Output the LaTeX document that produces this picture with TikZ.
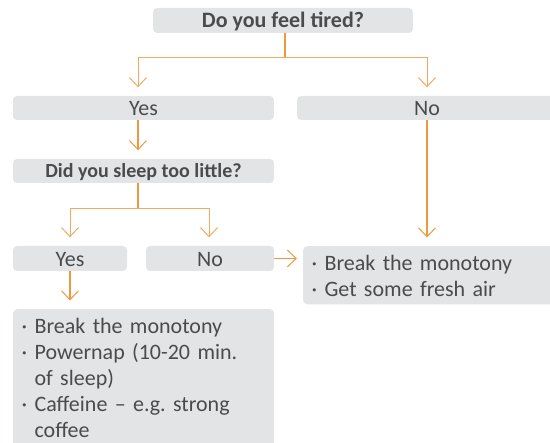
\documentclass[tikz,border=0pt]{standalone}
\usepackage{fontspec}
\setmainfont{Carlito}[WordSpace=0.8,BoldFeatures={WordSpace=1.0}]
\usetikzlibrary{arrows.meta,calc}
\definecolor{boxgray}{HTML}{E3E4E6}
\definecolor{txt}{HTML}{4A4B4D}
\definecolor{org}{HTML}{EE9840}
\definecolor{orgl}{HTML}{F2A95F}
\frenchspacing
\begin{document}
\begin{tikzpicture}[x=1pt,y=-1pt,
  box/.style={fill=boxgray, rounded corners=4pt, inner sep=0pt, text=txt},
  oneline/.style={text height=16pt, text depth=0pt, font=\fontsize{22}{26}\selectfont},
  qbox/.style={text height=13.5pt, text depth=0pt},
  multi/.style={anchor=north west, align=left, inner xsep=8.5pt, inner ysep=8pt, font=\fontsize{22}{26}\selectfont},
  stem/.style={draw=org, line width=1.8pt},
  branch/.style={draw=orgl, line width=1pt},
  tip/.style={-{Straight Barb[length=9pt,width=17pt,line width=1pt]}, shorten >=8.5pt},
]
\useasboundingbox (0,0) rectangle (550,443);
\clip (0,0) rectangle (550,443);

\node[box,qbox,font=\bfseries\fontsize{22}{26}\selectfont,minimum width=260pt,minimum height=25pt] (q1) at (283,20.5) {Do you feel tired?};
\node[box,oneline,minimum width=261pt,minimum height=24pt] (yes1) at (143.5,108) {Yes};
\node[box,oneline,minimum width=260pt,minimum height=24pt] (no1) at (427,108) {No};
\node[box,qbox,font=\bfseries\fontsize{20}{24}\selectfont,minimum width=261pt,minimum height=24pt] (q2) at (143.5,171) {Did you sleep too little?};
\node[box,oneline,minimum width=114pt,minimum height=25pt] (yes2) at (70,258.5) {Yes};
\node[box,oneline,minimum width=128pt,minimum height=25pt] (no2) at (210,258.5) {No};
\node[box,multi,text width=240pt] (r1) at (303,246) {\rule{0pt}{16pt}· Break the monotony\\· Get some fresh air};
\node[box,multi,text width=244pt] (r2) at (13,309) {\rule{0pt}{16pt}· Break the monotony\\· Powernap (10-20 min.\\\hphantom{· }of sleep)\\· Caffeine – e.g. strong\\\hphantom{· }coffee\rule[-14pt]{0pt}{14pt}};

\coordinate (b1) at (285,58);
\coordinate (b2) at (138,209);
\draw[stem] (q1.south -| b1) -- (b1);
\draw[branch,tip] (b1) -| ([xshift=-5.5pt]yes1.north);
\draw[branch,tip] (b1) -| (no1.north);
\draw[stem,tip] ([xshift=-5.5pt]yes1.south) -- ([xshift=-5.5pt]q2.north);
\draw[stem] ([xshift=-5.5pt]q2.south) -- (b2);
\draw[branch,tip] (b2) -| (yes2.north);
\draw[branch,tip] (b2) -| ([xshift=-1pt]no2.north);
\draw[stem,tip] (yes2.south) -- (yes2.south |- r2.north);
\draw[stem,tip,shorten >=6pt] (no2.east) -- (r1.west |- no2.east);
\draw[stem,tip] (no1.south) -- (no1.south |- r1.north);
\end{tikzpicture}
\end{document}
